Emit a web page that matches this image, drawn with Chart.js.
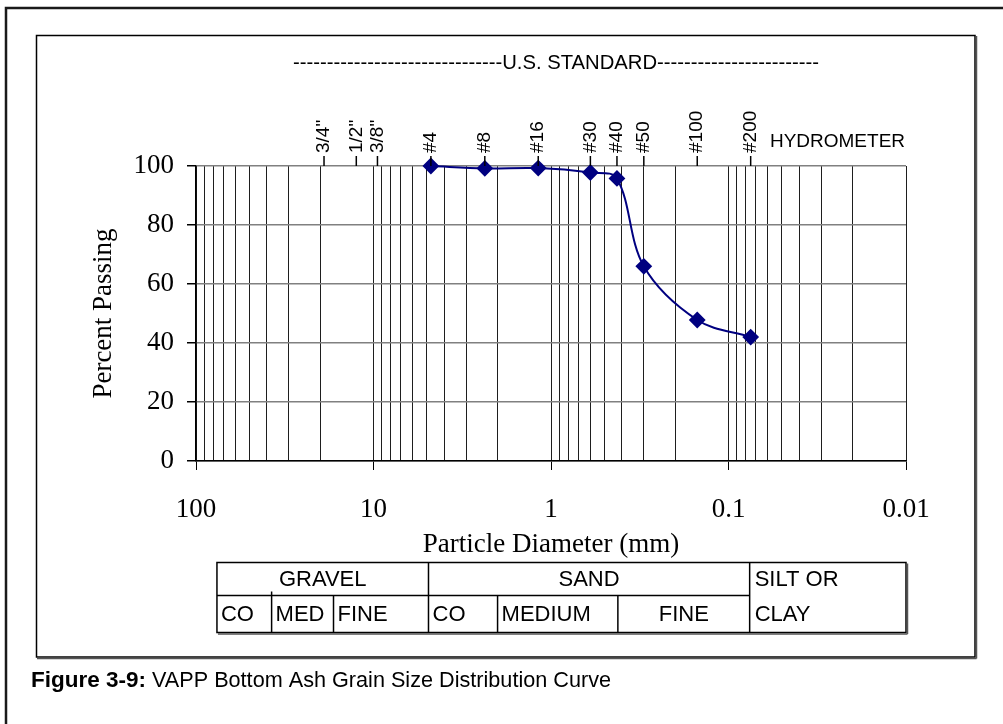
<!DOCTYPE html>
<html>
<head>
<meta charset="utf-8">
<script src="https://cdn.jsdelivr.net/npm/chart.js@4"></script>
<style>
  html, body { margin: 0; padding: 0; background: #fff; }
  #wrap { position: relative; width: 1003px; height: 724px; }
</style>
</head>
<body>
<div id="wrap"><canvas id="gradation"></canvas></div>
<script>
// U.S. standard sieves marked along the top of the plot (opening in mm)
const sieveLabels = ['3/4"', '1/2"', '3/8"', '#4', '#8', '#16', '#30', '#40', '#50', '#100', '#200'];
const sieveSizes = [19.0, 12.5, 9.5, 4.75, 2.36, 1.18, 0.6, 0.425, 0.3, 0.15, 0.075];

// measured gradation of the bottom ash
const particleDiameter = [4.75, 2.36, 1.18, 0.6, 0.425, 0.3, 0.15, 0.075];
const percentPassing = [100, 99.2, 99.3, 97.8, 95.8, 66, 47.8, 42];

const yTicks = [0, 20, 40, 60, 80, 100];

// soil classification strip (limits in mm)
const soilGroups = ['GRAVEL', 'SAND', 'SILT OR CLAY'];
const groupLimits = [[76.2, 4.9], [4.9, 0.076], [0.076, 0.01]];
const subGroups = ['CO', 'MED', 'FINE', 'CO', 'MEDIUM', 'FINE'];
const subLimits = [[76.2, 37.5], [37.5, 16.8], [16.8, 4.9], [4.9, 2.0], [2.0, 0.42], [0.42, 0.076]];

const serif = "'Liberation Serif', 'Times New Roman', serif";
const sans = "'Liberation Sans', Arial, sans-serif";

// log grid: 1..9 in every decade from 0.01 to 100
function gridValues() {
	const vals = [];
	for (let e = -2; e <= 1; e++) {
		for (let m = 1; m <= 9; m++) vals.push(Number((m * Math.pow(10, e)).toPrecision(2)));
	}
	vals.push(100);
	return vals;
}
const isDecade = v => Math.abs(Math.log10(v) - Math.round(Math.log10(v))) < 1e-9;

function putText(c, txt, x, y, opt) {
	c.save();
	c.translate(x, y);
	if (opt.rotate) c.rotate(opt.rotate);
	c.font = opt.font;
	c.fillStyle = '#000';
	c.textAlign = opt.align || 'left';
	c.textBaseline = opt.baseline || 'middle';
	if (opt.width) c.scale(opt.width / c.measureText(txt).width, 1);
	c.fillText(txt, 0, 0);
	c.restore();
}

function line(c, x1, y1, x2, y2) {
	c.beginPath();
	c.moveTo(x1, y1);
	c.lineTo(x2, y2);
	c.stroke();
}

const decorations = {
	id: 'decorations',
	afterDraw(chart) {
		const c = chart.ctx;
		const xs = chart.scales.x;
		const area = chart.chartArea;
		const px = v => xs.getPixelForValue(v);

		// page frames
		c.save();
		c.strokeStyle = '#1a1a1a';
		c.lineWidth = 2.5;
		c.beginPath();
		c.moveTo(6, 724);
		c.lineTo(6, 8);
		c.lineTo(1003, 8);
		c.stroke();
		c.lineWidth = 1.5;
		c.strokeStyle = '#000';
		c.strokeRect(36.5, 35.5, 938.5, 621.5);
		c.strokeStyle = '#555';
		line(c, 976.5, 36, 976.5, 658.5);
		line(c, 37, 658.5, 976.5, 658.5);
		c.restore();

		// sieve header
		putText(c, '-------------------------------U.S. STANDARD------------------------', 293, 63,
			{ font: '21px ' + sans, width: 526 });
		putText(c, 'HYDROMETER', 770, 142, { font: '19px ' + sans, width: 135 });

		c.save();
		c.strokeStyle = '#000';
		c.lineWidth = 1.5;
		sieveSizes.forEach((s, i) => {
			const x = px(s);
			line(c, x, 156, x, area.top);
			putText(c, sieveLabels[i], x, 153, { font: '19px ' + sans, rotate: -Math.PI / 2 });
		});
		c.restore();

		// axis titles
		putText(c, 'Particle Diameter (mm)', (area.left + area.right) / 2, 545,
			{ font: '27px ' + serif, align: 'center' });
		putText(c, 'Percent Passing', 104, (area.top + area.bottom) / 2,
			{ font: '27px ' + serif, align: 'center', rotate: -Math.PI / 2 });

		// classification table
		const tTop = 562.5, tMid = 595.5, tBot = 632.5;
		const left = px(groupLimits[0][0]);
		const right = px(groupLimits[2][1]);
		c.save();
		c.strokeStyle = '#000';
		c.lineWidth = 1.5;
		c.strokeRect(left, tTop, right - left, tBot - tTop);
		groupLimits.slice(1).forEach(g => line(c, px(g[0]), tTop, px(g[0]), tBot));
		line(c, left, tMid, px(groupLimits[2][0]), tMid);
		subLimits.forEach((s, i) => {
			if (i > 0 && i !== 3) line(c, px(s[0]), tMid - (i === 1 ? 4 : 0), px(s[0]), tBot);
		});
		c.strokeStyle = '#555';
		line(c, left + 1, tBot + 1.5, right + 1.5, tBot + 1.5);
		line(c, right + 1.5, tTop + 1, right + 1.5, tBot + 1.5);
		c.restore();

		const tf = '22px ' + sans;
		putText(c, soilGroups[0], (px(groupLimits[0][0]) + px(groupLimits[0][1])) / 2, 580, { font: tf, align: 'center' });
		putText(c, soilGroups[1], (px(groupLimits[1][0]) + px(groupLimits[1][1])) / 2, 580, { font: tf, align: 'center' });
		const silt = soilGroups[2].split(' ');
		putText(c, silt[0] + ' ' + silt[1], px(groupLimits[2][0]) + 5, 580, { font: tf });
		putText(c, silt[2], px(groupLimits[2][0]) + 5, 615, { font: tf });
		subGroups.forEach((name, i) => {
			const a = px(subLimits[i][0]);
			const b = px(subLimits[i][1]);
			if (i === subGroups.length - 1) putText(c, name, (a + b) / 2, 615, { font: tf, align: 'center' });
			else putText(c, name, a + 4, 615, { font: tf });
		});

		// caption
		putText(c, 'Figure 3-9:', 31, 681, { font: 'bold 22px ' + sans, width: 115 });
		putText(c, 'VAPP Bottom Ash Grain Size Distribution Curve', 152, 681, { font: '22px ' + sans, width: 459 });
	}
};

new Chart(document.getElementById('gradation'), {
	type: 'line',
	data: {
		datasets: [
			{
				data: particleDiameter.map((d, i) => ({ x: d, y: percentPassing[i] })),
				borderColor: '#000080',
				backgroundColor: '#000080',
				borderWidth: 2,
				pointStyle: 'rectRot',
				pointRadius: 7,
				pointHoverRadius: 7,
				tension: 0.35,
				clip: false,
				fill: false
			}
		]
	},
	options: {
		responsive: true,
		maintainAspectRatio: false,
		animation: false,
		events: [],
		layout: { padding: { left: 0, top: 166, right: 97, bottom: 183 } },
		plugins: { legend: { display: false }, tooltip: { enabled: false } },
		scales: {
			x: {
				type: 'logarithmic',
				reverse: true,
				min: 0.01,
				max: 100,
				afterBuildTicks: s => { s.ticks = gridValues().map(v => ({ value: v })); },
				afterFit: s => { s.height = 80; },
				ticks: {
					autoSkip: false,
					maxRotation: 0,
					padding: 24,
					color: '#000',
					font: { family: serif, size: 27 },
					callback: v => (isDecade(v) ? String(v) : '')
				},
				grid: {
					color: '#1e1e1e',
					lineWidth: 1,
					tickLength: 9,
					tickColor: c => (c.tick && isDecade(c.tick.value) ? '#000' : 'rgba(0,0,0,0)')
				},
				border: { color: '#000', width: 1.5 }
			},
			y: {
				min: 0,
				max: 100,
				afterBuildTicks: s => { s.ticks = yTicks.map(v => ({ value: v })); },
				afterFit: s => { s.width = 196; },
				ticks: { padding: 13, color: '#000', font: { family: serif, size: 27 } },
				grid: { color: '#808080', lineWidth: 1.5, tickLength: 9, tickColor: '#000' },
				border: { color: '#000', width: 1.5 }
			}
		}
	},
	plugins: [decorations]
});
</script>
</body>
</html>
